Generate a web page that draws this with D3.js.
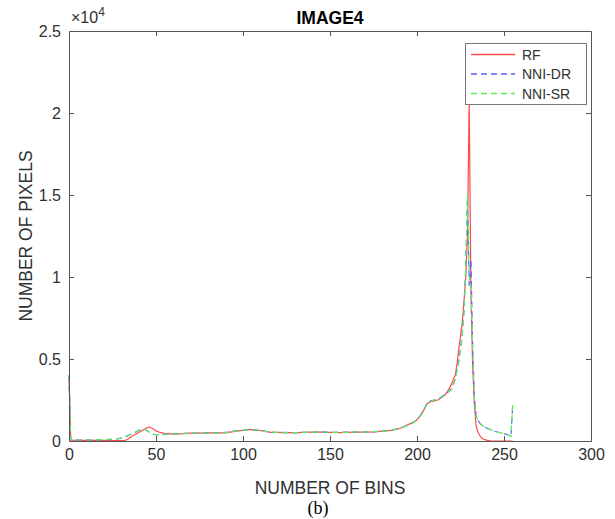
<!DOCTYPE html>
<html>
<head>
<meta charset="utf-8">
<script src="https://cdn.jsdelivr.net/npm/d3@7"></script>
<style>
  html, body { margin: 0; padding: 0; background: #fff; }
  svg { display: block; }
  text { font-family: "Liberation Sans", Arial, Helvetica, sans-serif; }
</style>
</head>
<body>
<svg id="chart" width="615" height="519"></svg>
<script>
// ---- data ----
const bins = [0,1,2,5,10,15,20,25,28,30,
  32,34,36,38,40,42,44,46,48,50,
  52,55,58,62,66,70,75,80,85,90,
  95,100,104,108,112,116,120,125,130,135,
  140,145,150,155,160,165,170,175,180,185,
  190,194,198,200,202,204,206,208,210,212,
  214,216,218,220,221,222,223,224,225,226,
  227,228,229,230,231,232,233,234,235,236,
  237,238,240,242,245,248,250,252,253,254,
  255];

const rf = [4000,60,50,40,40,40,40,30,20,20,
  30,120,280,400,520,640,760,850,760,620,
  530,470,440,430,450,480,480,490,490,500,
  590,650,710,660,610,530,520,510,510,520,
  540,550,530,510,530,550,540,550,600,650,
  760,950,1150,1300,1550,1900,2300,2400,2450,2500,
  2650,2800,3100,3500,3800,4000,4700,5600,6400,7200,
  8500,10000,12500,20800,9000,4500,2200,900,550,350,
  200,120,50,10,0,0,0,0,0,0,
  0];

const nniDR = [4000,60,60,60,60,70,80,100,130,170,
  240,330,430,530,640,720,690,550,430,380,
  370,400,420,430,460,480,470,490,500,520,
  600,660,700,650,600,540,510,520,500,530,
  530,560,520,520,540,540,550,560,610,660,
  750,930,1130,1280,1550,1900,2350,2450,2500,2550,
  2650,2850,3000,3200,3500,3800,4300,4900,5600,6500,
  8000,10500,14800,9500,11000,5700,2600,1500,1250,1100,
  1000,900,790,700,580,500,450,380,320,280,
  2200];

const nniSR = [4000,60,60,60,60,70,80,110,140,180,
  250,340,440,540,650,730,680,540,420,370,
  370,400,410,430,450,470,480,480,500,510,
  590,650,700,660,590,540,520,510,510,520,
  540,550,530,520,530,550,540,570,600,650,
  760,940,1140,1290,1560,1950,2300,2400,2500,2550,
  2700,2850,3000,3150,3450,3800,4300,4800,5500,6400,
  7900,10400,15000,10000,9500,5700,2500,1500,1250,1100,
  1000,900,800,700,580,500,450,380,330,280,
  2200];

const seriesNames = ["RF", "NNI-DR", "NNI-SR"];
const seriesColors = ["#ff4a4a", "#5c5cff", "#5cf05c"];
const seriesDash = [null, "6,4", "6,4"];
const xTicks = [0, 50, 100, 150, 200, 250, 300];
const yTicks = [0, 5000, 10000, 15000, 20000, 25000];

// ---- layout ----
const svg = d3.select("#chart");
const L = 69, R = 591, T = 31, B = 441;
const x = d3.scaleLinear().domain([0, 300]).range([L, R]);
const y = d3.scaleLinear().domain([0, 25000]).range([B, T]);
const axisColor = "#555";
const textColor = "#303030";

svg.append("rect").attr("x", L).attr("y", T).attr("width", R - L).attr("height", B - T)
  .attr("fill", "#fff").attr("stroke", "none");

// series
const allSeries = [rf, nniDR, nniSR];
const line = d3.line().x((d, i) => x(bins[i])).y(d => y(d));
const g = svg.append("g");
allSeries.forEach((vals, k) => {
  g.append("path")
    .datum(vals)
    .attr("d", line)
    .attr("fill", "none")
    .attr("stroke", seriesColors[k])
    .attr("stroke-width", 1.2)
    .attr("stroke-dasharray", seriesDash[k])
    .attr("stroke-linejoin", "round");
});

// axes
function styleAxis(sel, showLabels) {
  sel.selectAll("path.domain").attr("stroke", axisColor).attr("stroke-width", 1);
  sel.selectAll(".tick line").attr("stroke", axisColor);
  sel.selectAll(".tick text").attr("fill", textColor)
    .style("font-size", "16px")
    .style("font-family", '"Liberation Sans", Arial, sans-serif');
  if (!showLabels) sel.selectAll(".tick text").remove();
}
const xb = svg.append("g").attr("transform", `translate(0,${B})`)
  .call(d3.axisBottom(x).tickValues(xTicks).tickSizeInner(-5).tickSizeOuter(0).tickPadding(8));
styleAxis(xb, true);
const xt = svg.append("g").attr("transform", `translate(0,${T})`)
  .call(d3.axisTop(x).tickValues(xTicks).tickSizeInner(-5).tickSizeOuter(0));
styleAxis(xt, false);
const yl = svg.append("g").attr("transform", `translate(${L},0)`)
  .call(d3.axisLeft(y).tickValues(yTicks).tickFormat(d => d / 10000).tickSizeInner(-5).tickSizeOuter(0).tickPadding(8));
styleAxis(yl, true);
const yr = svg.append("g").attr("transform", `translate(${R},0)`)
  .call(d3.axisRight(y).tickValues(yTicks).tickSizeInner(-5).tickSizeOuter(0));
styleAxis(yr, false);
[xb, xt, yl, yr].forEach(a => a.selectAll(".tick").filter((d, i, n) => i === 0 || i === n.length - 1).select("line").remove());

// exponent label
const ex = svg.append("text").attr("x", L + 2).attr("y", 23).attr("fill", textColor)
  .style("font-size", "16px");
ex.append("tspan").text("\u00d710");
ex.append("tspan").attr("dy", -7).style("font-size", "12px").text("4");

// title
svg.append("text").attr("x", (L + R) / 2).attr("y", 24).attr("text-anchor", "middle")
  .attr("fill", "#000").style("font-size", "17.5px").style("font-weight", "bold").text("IMAGE4");

// axis labels
svg.append("text").attr("x", (L + R) / 2).attr("y", 494).attr("text-anchor", "middle")
  .attr("fill", textColor).style("font-size", "17.5px").text("NUMBER OF BINS");
svg.append("text").attr("transform", `translate(32,${(T + B) / 2}) rotate(-90)`)
  .attr("text-anchor", "middle").attr("fill", textColor).style("font-size", "17.5px")
  .text("NUMBER OF PIXELS");

// caption
svg.append("text").attr("x", 318).attr("y", 514).attr("text-anchor", "middle")
  .attr("fill", "#000").style("font-family", '"Liberation Serif", "Times New Roman", serif')
  .style("font-size", "18px").text("(b)");

// legend
const lg = svg.append("g");
lg.append("rect").attr("x", 465.5).attr("y", 43.5).attr("width", 121).attr("height", 61)
  .attr("fill", "#fff").attr("stroke", "#777").attr("stroke-width", 1);
seriesNames.forEach((name, k) => {
  const yy = 54.5 + k * 19.5;
  lg.append("line").attr("x1", 471).attr("x2", 515).attr("y1", yy).attr("y2", yy)
    .attr("stroke", seriesColors[k]).attr("stroke-width", 1.3)
    .attr("stroke-dasharray", seriesDash[k]);
  lg.append("text").attr("x", 522).attr("y", yy + 5).attr("fill", textColor)
    .style("font-size", "14px").text(name);
});
</script>
</body>
</html>
